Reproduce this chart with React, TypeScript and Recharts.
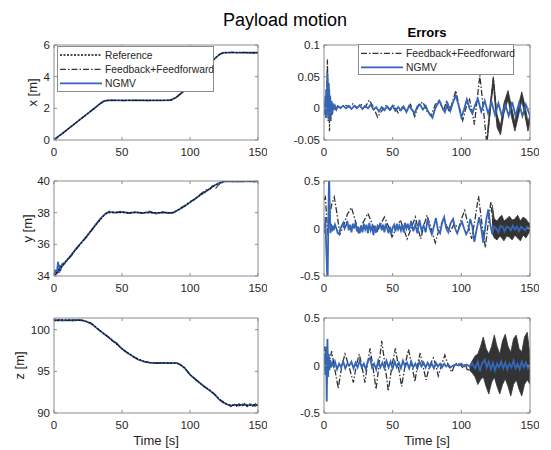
import React from 'react';
import { ComposedChart, Line, Area, XAxis, YAxis } from 'recharts';

type Pt = [number, number];
type Band = [number, number, number];

const FONT = '"Liberation Sans", Arial, Helvetica, sans-serif';
const BLUE = '#3565b5';
const DARK = '#333333';
const REF = '#111111';
const BOX = '#8c8c8c';
const TXT = '#262626';
const DASHDOT = '6 2 1.5 2';
const DOTTED = '2 1.5';

const timeTicks = [0, 50, 100, 150];
const xTicks = [0, 2, 4, 6];
const yTicks = [34, 36, 38, 40];
const zTicks = [90, 95, 100];
const exTicks = [-0.05, 0, 0.05, 0.1];
const eyTicks = [-0.5, 0, 0.5];
const ezTicks = [-0.5, 0, 0.5];

const legendNames = ['Reference', 'Feedback+Feedforward', 'NGMV'];

// ---------- positions ----------
const xRef: Pt[] = [[0,0],[10,0.68],[20,1.35],[30,2.02],[34,2.3],[37,2.46],[40,2.5],[60,2.5],[80,2.5],[86,2.52],[90,2.7],[95,3.05],[100,3.5],[105,3.95],[110,4.42],[115,4.85],[119,5.2],[122,5.42],[125,5.52],[130,5.53],[140,5.52],[150,5.52]];
const xFF: Pt[] = [[0,0],[5,0.33],[10,0.68],[15,1.0],[20,1.36],[25,1.68],[30,2.02],[34,2.3],[37,2.47],[40,2.51],[50,2.49],[60,2.51],[70,2.49],[80,2.5],[86,2.53],[90,2.71],[95,3.06],[100,3.5],[105,3.96],[110,4.41],[115,4.86],[119,5.21],[122,5.43],[125,5.53],[128,5.5],[131,5.55],[135,5.5],[140,5.54],[145,5.5],[150,5.53]];
const xNG: Pt[] = [[0,0],[3,0.22],[6,0.4],[10,0.67],[20,1.35],[30,2.02],[34,2.31],[37,2.47],[40,2.5],[50,2.5],[60,2.5],[70,2.5],[80,2.5],[86,2.52],[90,2.7],[95,3.05],[100,3.5],[105,3.95],[110,4.42],[115,4.85],[119,5.2],[122,5.42],[125,5.52],[130,5.52],[140,5.52],[150,5.51]];

const yRef: Pt[] = [[0,34],[10,35.05],[20,36.1],[30,37.15],[35,37.65],[38,37.92],[41,38.0],[60,38.0],[87,38.0],[90,38.1],[95,38.35],[100,38.65],[105,38.95],[110,39.25],[115,39.55],[120,39.8],[124,39.95],[127,40.0],[150,40.0]];
const yNG: Pt[] = [[0,34.0],[1,34.4],[2,34.1],[3,34.9],[3.6,34.2],[4.3,34.7],[5,34.45],[6,34.75],[8,34.85],[10,35.05],[13,35.35],[16,35.7],[20,36.1],[24,36.5],[28,36.95],[32,37.4],[35,37.7],[38,37.95],[41,38.05],[45,38.0],[50,38.05],[55,37.98],[60,38.03],[65,37.97],[70,38.03],[75,37.96],[80,38.02],[85,37.98],[88,38.02],[92,38.2],[96,38.4],[100,38.65],[104,38.9],[108,39.15],[112,39.35],[116,39.6],[120,39.82],[124,39.95],[128,40.0],[135,39.97],[142,40.0],[150,39.96]];
const yFF: Pt[] = [[0,34.0],[2,34.2],[4,34.3],[6,34.6],[8,34.8],[10,35.0],[13,35.3],[16,35.65],[20,36.05],[24,36.45],[28,36.9],[32,37.35],[35,37.7],[38,37.95],[41,38.1],[45,38.0],[50,38.1],[55,37.95],[60,38.05],[65,37.95],[70,38.1],[75,37.92],[80,38.05],[85,37.95],[88,38.0],[92,38.25],[96,38.45],[100,38.7],[104,38.85],[108,39.2],[112,39.45],[115,39.5],[117,39.8],[119,39.55],[121,39.75],[124,39.9],[127,40.05],[130,39.92],[134,40.05],[138,39.93],[142,40.04],[146,39.93],[150,40.02]];

const zRef: Pt[] = [[0,101.15],[20,101.15],[24,101.0],[28,100.7],[32,100.15],[40,99.1],[50,97.7],[60,96.6],[66,96.2],[72,96.0],[90,96.0],[93,95.8],[96,95.4],[100,94.6],[105,93.9],[110,93.25],[115,92.65],[120,91.9],[124,91.35],[128,91.0],[132,90.95],[150,90.95]];
const zNG: Pt[] = [[0,101.05],[3,101.2],[6,101.1],[10,101.15],[14,101.1],[18,101.18],[21,101.1],[24,100.95],[27,100.75],[30,100.4],[33,99.95],[36,99.6],[40,99.1],[43,98.7],[46,98.35],[50,97.7],[54,97.2],[58,96.8],[62,96.4],[66,96.2],[70,96.05],[75,96.0],[80,96.02],[85,95.98],[90,96.0],[93,95.8],[96,95.4],[100,94.6],[105,93.9],[110,93.25],[115,92.65],[118,92.3],[121,91.7],[124,91.3],[127,91.05],[130,90.85],[133,91.0],[136,90.9],[139,91.05],[142,90.9],[145,91.0],[148,90.85],[150,91.05]];
const zFF: Pt[] = [[0,101.2],[3,101.05],[6,101.2],[10,101.1],[14,101.2],[18,101.1],[21,101.15],[24,100.9],[27,100.8],[30,100.35],[33,100.0],[36,99.55],[40,99.15],[43,98.6],[46,98.4],[50,97.65],[54,97.25],[58,96.75],[62,96.45],[66,96.15],[70,96.1],[75,95.95],[80,96.05],[85,95.95],[90,96.05],[93,95.75],[96,95.45],[100,94.55],[105,93.95],[110,93.2],[115,92.7],[118,92.2],[120,92.0],[122,91.5],[124,91.45],[126,91.0],[128,91.15],[130,90.75],[132,91.1],[134,90.75],[136,91.1],[138,90.8],[140,91.15],[142,90.75],[144,91.1],[146,90.8],[148,91.1],[150,90.85]];

// ---------- errors ----------
const exFF: Pt[] = [[0,0.005],[0.5,-0.008],[1,0.012],[1.5,-0.015],[2,0.03],[2.5,0.077],[3,-0.02],[3.5,0.04],[4,-0.036],[4.5,0.02],[5,-0.02],[5.5,0.01],[6,-0.01],[7,0.006],[8,-0.003],[10,0.004],[12,0],[15,0.006],[18,0.002],[21,0.007],[24,0.001],[27,0.006],[30,0.002],[33,0.013],[36,0.002],[39,-0.014],[42,-0.004],[45,0.004],[48,-0.003],[51,0.004],[54,-0.007],[57,0.002],[60,-0.004],[63,0.006],[66,-0.013],[69,0.006],[72,0.01],[75,-0.005],[78,-0.012],[81,0.006],[84,0.013],[87,-0.004],[89,0.01],[91,-0.006],[93,0.006],[96,0.028],[98.5,0.002],[101,-0.019],[104,0.006],[106,0.014],[108,-0.006],[109.5,-0.026],[111,0.004],[113.5,0.052],[116,0.0],[118.5,-0.056],[121,0.0],[123.3,0.048],[126,-0.02],[128.5,-0.036],[131,0.0],[134,0.022],[136.5,-0.005],[139,-0.03],[141.5,-0.005],[144,0.02],[146.5,-0.005],[148.5,-0.03],[150,-0.016]];
const exFFBand: Band[] = [[119,-0.05,-0.038],[121,-0.007,0.007],[123.3,0.038,0.05],[126,-0.03,-0.01],[128.5,-0.042,-0.028],[131,-0.008,0.008],[134,0.014,0.028],[136.5,-0.013,0.003],[139,-0.036,-0.022],[141.5,-0.013,0.003],[144,0.012,0.026],[146.5,-0.013,0.003],[148.5,-0.036,-0.022],[150,-0.022,-0.01]];
const exNG: Pt[] = [[0,0],[0.3,0.01],[0.6,-0.01],[1,0.02],[1.3,-0.015],[1.6,0.03],[2,-0.01],[2.3,0.045],[2.6,0.055],[2.9,-0.005],[3.2,0.04],[3.5,-0.015],[3.8,0.03],[4.1,-0.02],[4.5,0.02],[5,-0.012],[5.5,0.012],[6,-0.008],[6.5,0.008],[7,-0.003],[8,0.004],[9,-0.002],[10,0.003],[12,0.001],[14,0.004],[16,0.0],[18,0.004],[20,-0.001],[22,0.004],[24,0.0],[26,0.005],[28,-0.001],[30,0.004],[32,0.0],[34,0.006],[36,-0.002],[38,0.002],[40,-0.005],[42,0.002],[44,-0.003],[46,0.003],[48,-0.002],[50,0.004],[52,-0.004],[54,0.002],[56,-0.003],[58,0.003],[60,-0.006],[62,0.004],[64,-0.002],[66,-0.008],[68,0.003],[70,0.006],[72,-0.002],[74,0.004],[76,-0.006],[79,-0.015],[81,0.0],[84,0.012],[86,0.002],[88,-0.006],[90,0.008],[92,-0.004],[94,0.01],[96,0.02],[98,0.005],[100,-0.014],[102,-0.002],[104,0.014],[106,0.0],[108,-0.008],[110,0.005],[112,0.015],[114.5,-0.005],[117,0.012],[119.5,-0.008],[122,0.01],[124.5,-0.01],[127,0.008],[129.5,-0.012],[132,0.006],[134.5,-0.012],[137,0.01],[139.5,-0.012],[142,0.008],[144.5,-0.012],[147,0.006],[150,-0.012]];

const eyFF: Pt[] = [[0,0.3],[1,0.33],[2,0.1],[3,-0.08],[4,0.1],[5.5,0.25],[7.5,0.33],[9.5,0.15],[11.6,-0.06],[14,0.02],[17,0.15],[20,0.22],[22.5,0.1],[25,-0.04],[28,0.05],[32,0.16],[35,0.05],[38,-0.05],[41,0.04],[44,0.12],[47,0.02],[49.5,-0.09],[52.5,0.0],[55.5,0.09],[58,0.0],[60.5,-0.11],[63.5,0.0],[66.5,0.12],[68.5,0.0],[70.5,-0.11],[72.5,0.02],[75,0.14],[78,0.0],[81,-0.15],[84,0.0],[87,0.1],[89.5,0.02],[92,-0.03],[95,0.05],[98,0.0],[100,0.1],[102.5,0.19],[105,0.03],[107.5,-0.11],[110,0.1],[112.5,0.34],[115,0.05],[117.5,-0.2],[119.5,0.05],[121.5,0.28],[123,0.05],[125,-0.07],[127,0.0],[130,0.03],[133,-0.02],[136,0.03],[139,-0.02],[142,0.02],[145,-0.02],[148,0.01],[150,0.0]];
const eyFFBand: Band[] = [[122.5,-0.05,0.25],[124,-0.1,0.1],[126,-0.12,0.08],[128,-0.08,0.12],[129.5,-0.1,0.14],[131,-0.13,0.08],[133,-0.08,0.1],[135,-0.09,0.13],[137,-0.12,0.09],[139,-0.07,0.1],[141,-0.1,0.14],[143,-0.13,0.08],[145,-0.07,0.12],[147,-0.1,0.1],[149,-0.05,0.06],[150,-0.03,0.05]];
const eyNG: Pt[] = [[0,0.05],[0.5,-0.05],[1,0.12],[1.5,-0.15],[2,-0.35],[2.6,-0.6],[3.1,0.0],[3.7,0.6],[4.2,0.2],[4.7,-0.05],[5.2,0.05],[5.8,-0.03],[6.5,0.03],[7,-0.02],[8,0.04],[9,0.0],[10,-0.05],[11,-0.06],[12,0.0],[13,0.03],[14,0.06],[15,0.0],[16,0.03],[17,0.08],[18,-0.02],[19,0.04],[20,-0.04],[21,0.05],[22,0.0],[23,0.07],[24,-0.03],[25,0.02],[26,-0.05],[27,0.03],[28,-0.04],[29,0.05],[30,-0.01],[31,0.04],[32,-0.05],[33,0.06],[34,-0.02],[35,0.02],[36,-0.07],[37,0.03],[38,-0.04],[39,0.03],[40,0.01],[41,0.06],[42,-0.02],[43,0.04],[44,-0.04],[45,0.05],[46,0.0],[47,-0.05],[48,0.02],[49,-0.06],[50,0.01],[51,0.04],[52,-0.03],[53,0.05],[54,-0.01],[55,0.03],[56,-0.02],[57,0.04],[58,-0.04],[59,0.06],[60,0.0],[61,0.05],[62,-0.02],[63.5,0.08],[65,-0.03],[66.5,0.04],[68,-0.05],[69.5,0.09],[71,-0.02],[72.5,0.03],[74,-0.04],[75.5,0.1],[77,0.0],[78.5,-0.06],[80,0.02],[81.5,0.11],[83,-0.02],[84.5,-0.05],[86,0.06],[87.5,0.12],[89,0.0],[90.5,-0.04],[92,0.05],[94,0.1],[95.5,0.0],[97,-0.05],[99,0.03],[100.5,0.07],[102,0.0],[103.5,-0.06],[105,-0.02],[106.5,0.1],[108,0.02],[109.5,-0.14],[111,-0.02],[113,0.12],[114.5,0.0],[116,-0.15],[118,0.08],[119.6,0.2],[121,0.05],[122.5,-0.06],[124,0.02],[125.5,0.0],[127,-0.04],[128.5,0.03],[130,0.02],[131.5,-0.03],[133,0.02],[134.5,0.01],[136,-0.02],[137.5,0.03],[139,-0.01],[140.5,0.02],[142,-0.03],[143.5,0.02],[145,0.0],[146.5,-0.02],[148,0.02],[150,-0.01]];

const ezFF: Pt[] = [[0,0.15],[0.5,0.2],[1,-0.1],[1.5,0.18],[2,-0.2],[2.5,0.15],[3,-0.1],[4,0.05],[5.6,0.15],[8,-0.05],[10.4,-0.24],[13,0.0],[15.3,0.12],[18,0.0],[21.4,-0.18],[23.5,0.0],[25.7,0.12],[27.5,0.0],[29.8,-0.18],[31.5,0.0],[33.5,0.18],[35.5,0.0],[37.9,-0.25],[40,0.0],[42,0.26],[44.5,0.0],[46.8,-0.27],[49.5,0.0],[52,0.18],[54,0.0],[56.5,-0.22],[59,0.0],[61.5,0.17],[64,0.0],[66.2,-0.17],[68,0.0],[70,0.13],[72,0.0],[74.3,-0.15],[77,0.0],[79.6,0.08],[81.5,0.0],[83.2,-0.11],[85.5,0.0],[88,0.11],[90.5,0.0],[93,-0.07],[95,0.0],[97,0.03],[99,0.01],[101,-0.02],[103,0.02],[104.5,-0.06],[106.5,-0.02]];
const ezFFBand: Band[] = [[106,-0.05,0.0],[108,-0.08,0.05],[110,-0.12,0.1],[112,-0.2,0.12],[114,-0.15,0.2],[116,-0.12,0.3],[118,-0.22,0.18],[120,-0.3,0.12],[122,-0.18,0.2],[124,-0.12,0.32],[126,-0.22,0.2],[128,-0.3,0.12],[130,-0.2,0.26],[132,-0.14,0.33],[134,-0.22,0.2],[136,-0.32,0.14],[138,-0.2,0.28],[140,-0.15,0.32],[142,-0.25,0.18],[144,-0.32,0.14],[146,-0.2,0.3],[148,-0.15,0.35],[150,-0.2,0.1]];
const ezNG: Pt[] = [[0,0.05],[0.5,0.12],[1,-0.1],[1.5,0.2],[2,-0.38],[2.5,0.28],[3,-0.12],[3.5,0.12],[4,-0.05],[4.5,0.06],[5,-0.02],[6,0.03],[7,-0.01],[8,0.04],[9.5,-0.04],[11,0.02],[12.5,-0.02],[14,0.04],[15.5,-0.03],[17,0.02],[18.5,0.0],[20,0.04],[21.5,-0.03],[23,0.03],[24.5,-0.02],[26,0.05],[27.5,-0.02],[29,0.02],[30.5,-0.04],[32,0.05],[33.5,0.08],[35,-0.02],[36.5,0.02],[38,-0.04],[39.5,0.05],[41,-0.02],[42.5,0.03],[44,-0.03],[45.5,0.05],[47,-0.02],[48.5,0.04],[50,-0.03],[51.5,0.04],[53,-0.02],[54.5,0.03],[56,-0.03],[57.5,0.05],[59,-0.01],[60.5,0.03],[62,-0.03],[63.5,0.04],[65,-0.02],[66.5,0.02],[68,-0.03],[69.5,0.04],[71,-0.01],[72.5,0.03],[74,-0.02],[75.5,0.03],[77,-0.02],[78.5,0.02],[80,-0.03],[81.5,0.03],[83,-0.01],[84.5,0.02],[86,-0.02],[87.5,0.02],[89,-0.01],[90.5,0.01],[92,-0.02],[94,0.0],[96,0.01],[98,0.0],[100,0.02],[102,-0.01],[104,0.01],[106,-0.01],[108,0.02],[110,-0.03],[112,0.04],[113.5,-0.06],[115,0.02],[117,0.06],[118.5,-0.02],[120,0.04],[121.5,-0.04],[123,0.03],[124.5,-0.05],[126,0.02],[127.5,-0.02],[129,0.04],[130.5,-0.03],[132,0.03],[133.5,-0.04],[135,0.02],[136.5,-0.02],[138,0.05],[139.5,-0.03],[141,0.02],[142.5,-0.04],[144,0.04],[145.5,-0.02],[147,0.03],[148.5,-0.03],[150,0.0]];

const rows = (pts: Pt[]) => pts.map(([t, v]) => ({ t, v }));
const bandRows = (pts: Band[]) => pts.map(([t, lo, hi]) => ({ t, r: [lo, hi] }));

const tickStyle = { fill: TXT, fontSize: 11.5, fontFamily: FONT };
const noTick = () => <g />;

type PanelProps = {
  left: number; top: number; w: number; h: number; yW: number;
  domain: [number, number]; ticks: number[];
  yLabel?: string; yLabelX?: number; timeLabel?: boolean;
  children: React.ReactNode;
};

function Panel({ left, top, w, h, yW, domain, ticks, yLabel, yLabelX, timeLabel, children }: PanelProps) {
  const mTop = 10;
  const xH = timeLabel ? 36 : 24;
  const chartLeft = left - yW;
  const width = yW + w + 1 + 8;
  const height = mTop + 1 + h + xH;
  return (
    <div style={{ position: 'absolute', left: chartLeft, top: top - mTop - 1 }}>
      <ComposedChart width={width} height={height} margin={{ top: mTop, right: 8, left: 0, bottom: 0 }}>
        <XAxis xAxisId="b" dataKey="t" type="number" domain={[0, 150]} ticks={timeTicks} interval={0}
          allowDataOverflow height={xH} tickSize={-3} tickMargin={11} stroke={BOX} tick={tickStyle}
          label={timeLabel ? { value: 'Time [s]', position: 'insideBottom', offset: 4, fill: TXT, fontSize: 13, fontFamily: FONT } : undefined} />
        <XAxis xAxisId="tp" orientation="top" dataKey="t" type="number" domain={[0, 150]} ticks={timeTicks}
          interval={0} allowDataOverflow height={1} tickSize={-3} stroke={BOX} tick={noTick} />
        <YAxis yAxisId="l" type="number" domain={domain} ticks={ticks} interval={0} allowDataOverflow width={yW}
          tickSize={-3} tickMargin={7} stroke={BOX} tick={tickStyle}
          label={yLabel ? { value: yLabel, angle: -90, position: 'insideLeft', offset: (yLabelX || 0) - chartLeft, fill: TXT, fontSize: 13, fontFamily: FONT, style: { textAnchor: 'middle' } } : undefined} />
        <YAxis yAxisId="rt" orientation="right" type="number" domain={domain} ticks={ticks} interval={0}
          allowDataOverflow width={1} tickSize={-3} stroke={BOX} tick={noTick} />
        {children}
      </ComposedChart>
    </div>
  );
}

const lineProps = { xAxisId: 'b', yAxisId: 'l', dataKey: 'v', type: 'linear' as const, dot: false, activeDot: false, isAnimationActive: false };

function PosSeries(ref: Pt[], ff: Pt[], ng: Pt[]) {
  return [
    <Line key="ng" {...lineProps} data={rows(ng)} stroke={BLUE} strokeWidth={1.8} />,
    <Line key="ff" {...lineProps} data={rows(ff)} stroke={DARK} strokeWidth={1.1} strokeDasharray={DASHDOT} />,
    <Line key="ref" {...lineProps} data={rows(ref)} stroke={REF} strokeWidth={1.1} strokeDasharray={DOTTED} />,
  ];
}

function ErrSeries(ff: Pt[], band: Band[], ng: Pt[]) {
  return [
    <Area key="band" xAxisId="b" yAxisId="l" data={bandRows(band)} dataKey="r" type="linear" stroke={DARK} strokeWidth={0.8}
      fill={DARK} fillOpacity={1} dot={false} activeDot={false} isAnimationActive={false} />,
    <Line key="ff" {...lineProps} data={rows(ff)} stroke={DARK} strokeWidth={1.3} strokeDasharray={DASHDOT} />,
    <Line key="ng" {...lineProps} data={rows(ng)} stroke={BLUE} strokeWidth={1.8} />,
  ];
}

const LS = { fontFamily: FONT, fontSize: 10.3, fill: TXT } as const;

export default function App() {
  const L = { left: 54, w: 204, yW: 54 };
  const R = { left: 324, w: 206, yW: 44 };
  const rowsTop = [45, 181, 318];
  const H = 95;
  return (
    <div style={{ position: 'absolute', left: 0, top: 0, width: 551, height: 450, background: '#fff' }}>
      <Panel {...L} top={rowsTop[0]} h={H} domain={[0, 6]} ticks={xTicks} yLabel="x [m]" yLabelX={32}>
        {PosSeries(xRef, xFF, xNG)}
      </Panel>
      <Panel {...L} top={rowsTop[1]} h={H} domain={[34, 40]} ticks={yTicks} yLabel="y [m]" yLabelX={27}>
        {PosSeries(yRef, yFF, yNG)}
      </Panel>
      <Panel {...L} top={rowsTop[2]} h={H} domain={[90, 101.4]} ticks={zTicks} yLabel="z [m]" yLabelX={19} timeLabel>
        {PosSeries(zRef, zFF, zNG)}
      </Panel>
      <Panel {...R} top={rowsTop[0]} h={H} domain={[-0.05, 0.1]} ticks={exTicks}>
        {ErrSeries(exFF, exFFBand, exNG)}
      </Panel>
      <Panel {...R} top={rowsTop[1]} h={H} domain={[-0.5, 0.5]} ticks={eyTicks}>
        {ErrSeries(eyFF, eyFFBand, eyNG)}
      </Panel>
      <Panel {...R} top={rowsTop[2]} h={H} domain={[-0.5, 0.5]} ticks={ezTicks} timeLabel>
        {ErrSeries(ezFF, ezFFBand, ezNG)}
      </Panel>

      <svg width={551} height={450} style={{ position: 'absolute', left: 0, top: 0, pointerEvents: 'none' }}>
        <text x={285} y={26} textAnchor="middle" fontFamily={FONT} fontSize={18} fill="#000">Payload motion</text>
        <text x={427} y={37} textAnchor="middle" fontFamily={FONT} fontSize={13} fontWeight="bold" fill="#000">Errors</text>

        <rect x={57.5} y={46.5} width={156} height={45} fill="#fff" stroke={BOX} strokeWidth={1} />
        <line x1={60} x2={102} y1={55} y2={55} stroke={REF} strokeWidth={1.4} strokeDasharray={DOTTED} />
        <text x={105} y={58.6} {...LS}>{legendNames[0]}</text>
        <line x1={60} x2={102} y1={69.3} y2={69.3} stroke={DARK} strokeWidth={1.3} strokeDasharray={DASHDOT} />
        <text x={105} y={72.9} {...LS}>{legendNames[1]}</text>
        <line x1={60} x2={102} y1={83.3} y2={83.3} stroke={BLUE} strokeWidth={1.8} />
        <text x={105} y={86.9} {...LS}>{legendNames[2]}</text>

        <rect x={358.5} y={44.5} width={155} height={30} fill="#fff" stroke={BOX} strokeWidth={1} />
        <line x1={361} x2={403} y1={53.3} y2={53.3} stroke={DARK} strokeWidth={1.3} strokeDasharray={DASHDOT} />
        <text x={406} y={56.9} {...LS}>{legendNames[1]}</text>
        <line x1={361} x2={403} y1={67.3} y2={67.3} stroke={BLUE} strokeWidth={1.8} />
        <text x={406} y={70.9} {...LS}>{legendNames[2]}</text>
      </svg>
    </div>
  );
}
